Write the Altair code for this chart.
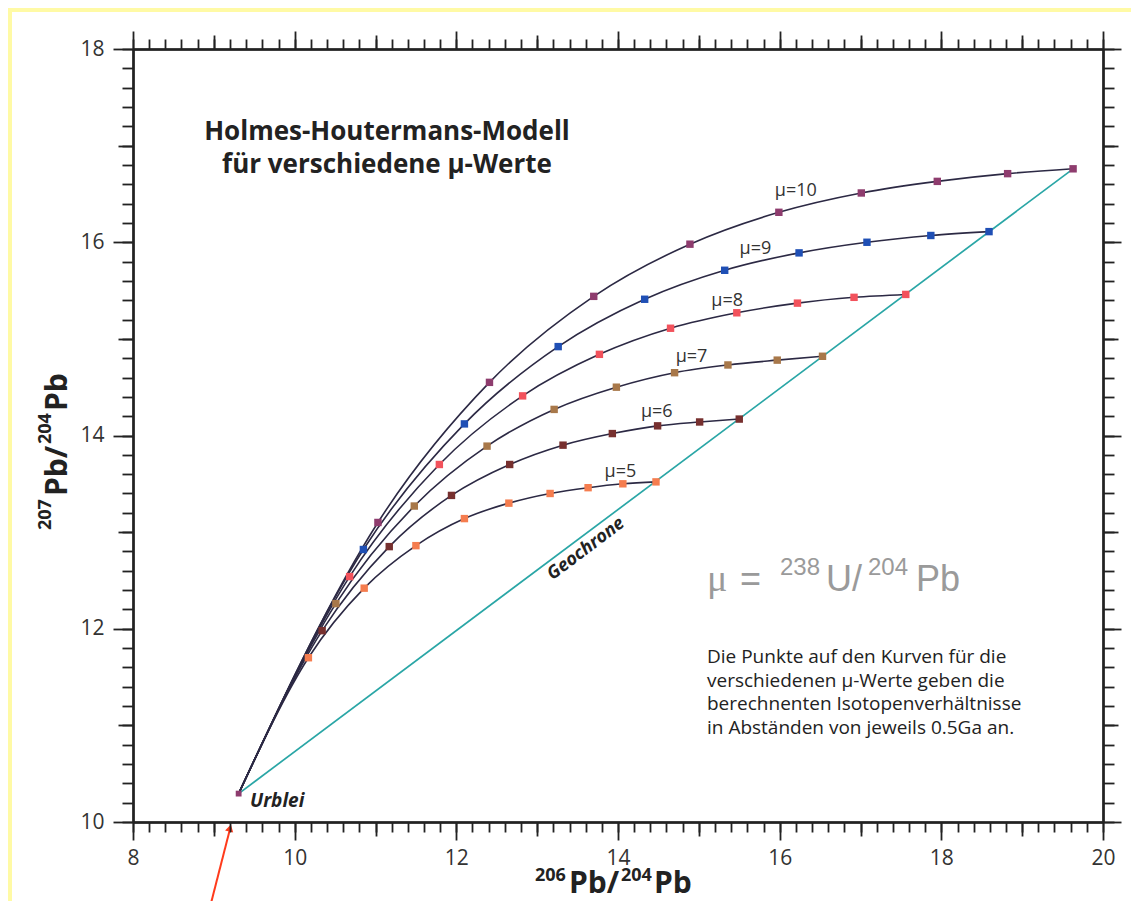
import altair as alt
import pandas as pd

# ---------------- data ----------------
AGES_GA = [4.0, 3.5, 3.0, 2.5, 2.0, 1.5, 1.0, 0.5, 0.0]
URBLEI_X = 9.307
URBLEI_Y = 10.294

MU_VALUES = [5, 6, 7, 8, 9, 10]
MU5_X = [10.17, 10.86, 11.50, 12.10, 12.65, 13.16, 13.63, 14.06, 14.47]
MU5_Y = [11.70, 12.42, 12.86, 13.14, 13.30, 13.40, 13.46, 13.50, 13.52]
MU6_X = [10.34, 11.17, 11.94, 12.66, 13.32, 13.93, 14.49, 15.01, 15.50]
MU6_Y = [11.98, 12.85, 13.38, 13.70, 13.90, 14.02, 14.10, 14.14, 14.17]
MU7_X = [10.51, 11.48, 12.38, 13.21, 13.98, 14.70, 15.36, 15.97, 16.53]
MU7_Y = [12.26, 13.27, 13.89, 14.27, 14.50, 14.65, 14.73, 14.78, 14.82]
MU8_X = [10.68, 11.79, 12.82, 13.77, 14.65, 15.47, 16.22, 16.92, 17.56]
MU8_Y = [12.54, 13.70, 14.41, 14.84, 15.11, 15.27, 15.37, 15.43, 15.46]
MU9_X = [10.85, 12.10, 13.26, 14.33, 15.32, 16.24, 17.08, 17.87, 18.59]
MU9_Y = [12.82, 14.12, 14.92, 15.41, 15.71, 15.89, 16.00, 16.07, 16.11]
MU10_X = [11.03, 12.41, 13.70, 14.89, 15.99, 17.01, 17.95, 18.82, 19.63]
MU10_Y = [13.10, 14.55, 15.44, 15.98, 16.31, 16.51, 16.63, 16.71, 16.76]

GEOCHRON_X = [9.307, 19.63]
GEOCHRON_Y = [10.294, 16.76]

MU_LABELS = ["\u03bc=5", "\u03bc=6", "\u03bc=7", "\u03bc=8", "\u03bc=9", "\u03bc=10"]
MU_LABEL_X = [14.03, 14.48, 14.91, 15.35, 15.70, 16.20]
MU_LABEL_Y = [13.62, 14.24, 14.81, 15.39, 15.93, 16.53]

X_MAJOR = [8, 10, 12, 14, 16, 18, 20]
X_MEDIUM = [9, 11, 13, 15, 17, 19]
X_MINOR = [round(8 + 0.2 * i, 1) for i in range(61)]
Y_MAJOR = [10, 12, 14, 16, 18]
Y_MEDIUM = [11, 13, 15, 17]
Y_MINOR = [round(10 + 0.2 * i, 1) for i in range(41)]

TITLE_LINES = ["Holmes-Houtermans-Modell", "f\u00fcr verschiedene \u03bc-Werte"]
NOTE_LINES = [
    "Die Punkte auf den Kurven f\u00fcr die",
    "verschiedenen \u03bc-Werte geben die",
    "berechnenten Isotopenverh\u00e4ltnisse",
    "in Abst\u00e4nden von jeweils 0.5Ga an.",
]

# ---------------- styles ----------------
INK = "#222222"
CURVE = "#2c2944"
GEO = "#2aa6a6"
MU_COLORS = ["#f57d4f", "#77302f", "#a8784a", "#f2525c", "#1f4fb5", "#8e3c6e"]
FONT = "Open Sans"

series = [(5, MU5_X, MU5_Y), (6, MU6_X, MU6_Y), (7, MU7_X, MU7_Y),
          (8, MU8_X, MU8_Y), (9, MU9_X, MU9_Y), (10, MU10_X, MU10_Y)]
curve_rows, dot_rows = [], []
for mu, xs, ys in series:
    curve_rows.append(dict(mu=mu, order=0, x=URBLEI_X, y=URBLEI_Y))
    for i, (x, y) in enumerate(zip(xs, ys)):
        curve_rows.append(dict(mu=mu, order=i + 1, x=x, y=y))
        dot_rows.append(dict(mu=mu, age=AGES_GA[i], x=x, y=y))
curves_df = pd.DataFrame(curve_rows)
dots_df = pd.DataFrame(dot_rows)
geo_df = pd.DataFrame(dict(x=GEOCHRON_X, y=GEOCHRON_Y, order=[0, 1]))
lab_df = pd.DataFrame(dict(x=MU_LABEL_X, y=MU_LABEL_Y, t=MU_LABELS))
urb_df = pd.DataFrame(dict(x=[URBLEI_X], y=[URBLEI_Y]))
frame_df = pd.DataFrame(dict(x=[8, 20], y=[10, 18]))
one = pd.DataFrame(dict(a=[0]))

XS = alt.Scale(domain=[8, 20], nice=False, zero=False)
YS = alt.Scale(domain=[10, 18], nice=False, zero=False)


def ax(orient, values, size, labels=False):
    kw = dict(orient=orient, values=values, tickSize=size, labels=labels, grid=False,
              title=None, domainColor=INK, domainWidth=2, tickColor=INK, tickWidth=1.8,
              zindex=2)
    if labels:
        kw.update(labelFont=FONT, labelFontSize=21, labelColor="#333333",
                  labelPadding=(7 if orient in ("bottom", "top") else 9),
                  labelFlush=False, labelOverlap=False, format="d")
    return alt.Axis(**kw)


def axis_layer(xa, ya):
    return alt.Chart(frame_df).mark_point(opacity=0).encode(
        x=alt.X("x:Q", scale=XS, axis=xa),
        y=alt.Y("y:Q", scale=YS, axis=ya),
    )


axis_layers = [
    axis_layer(ax("bottom", X_MINOR, 10), ax("left", Y_MINOR, 11)),
    axis_layer(ax("bottom", X_MEDIUM, 14), ax("left", Y_MEDIUM, 15)),
    axis_layer(ax("bottom", X_MAJOR, 18, True), ax("left", Y_MAJOR, 20, True)),
    axis_layer(ax("top", X_MINOR, 10), ax("right", Y_MINOR, 11)),
    axis_layer(ax("top", X_MEDIUM, 14), ax("right", Y_MEDIUM, 15)),
    axis_layer(ax("top", X_MAJOR, 18), ax("right", Y_MAJOR, 18)),
]


def X(f="x"):
    return alt.X(f + ":Q", scale=XS, axis=None)


def Y(f="y"):
    return alt.Y(f + ":Q", scale=YS, axis=None)


bg = alt.Chart(one).mark_rect(color="white").encode(
    x=alt.value(-121), x2=alt.value(1010), y=alt.value(-37), y2=alt.value(900))

geo = alt.Chart(geo_df).mark_line(color=GEO, strokeWidth=1.7).encode(
    x=X(), y=Y(), order="order:Q")

curves = alt.Chart(curves_df).mark_line(
    interpolate="monotone", color=CURVE, strokeWidth=1.6).encode(
    x=X(), y=Y(), detail="mu:N", order="order:Q")

dots = alt.Chart(dots_df).mark_square(size=55, opacity=1).encode(
    x=X(), y=Y(),
    color=alt.Color("mu:N", scale=alt.Scale(domain=MU_VALUES, range=MU_COLORS), legend=None))

urb = alt.Chart(urb_df).mark_square(size=34, opacity=1, color="#8e3c6e").encode(x=X(), y=Y())

mu_text = alt.Chart(lab_df).mark_text(font=FONT, fontSize=18, color="#333333").encode(
    x=X(), y=Y(), text="t:N")


def ptext(t, px, py, **kw):
    return alt.Chart(one).mark_text(**kw).encode(
        x=alt.value(px), y=alt.value(py), text=alt.value(t))


BOLD = dict(font=FONT, fontWeight="bold", color="#222222", baseline="alphabetic", align="left")
GRAY = dict(font="Liberation Sans", color="#9a9a9a", baseline="alphabetic", align="left")

texts = [
    ptext(TITLE_LINES, 254, 91, font=FONT, fontSize=26, fontWeight="bold", color="#222222",
          align="center", baseline="alphabetic", lineHeight=33),
    ptext(NOTE_LINES, 574, 614, font=FONT, fontSize=19, color="#222222",
          align="left", baseline="alphabetic", lineHeight=23.5),
    ptext("Urblei", 117, 752, font=FONT, fontSize=19, fontWeight="bold", fontStyle="italic",
          color="#222222", align="left", baseline="middle"),
    ptext("Geochrone", 453, 500, font=FONT, fontSize=18, fontWeight="bold", fontStyle="italic",
          color="#222222", align="center", baseline="middle", angle=323),
    # mu = 238U/204Pb
    ptext("\u03bc", 574, 542, fontSize=38, **dict(GRAY, font="Liberation Serif")),
    ptext("=", 607, 542, fontSize=36, **GRAY),
    ptext("238", 647, 526, fontSize=24, **GRAY),
    ptext("U/", 693, 542, fontSize=36, **GRAY),
    ptext("204", 735, 526, fontSize=24, **GRAY),
    ptext("Pb", 783, 542, fontSize=36, **GRAY),
    # x-axis title 206Pb/204Pb
    ptext("206", 402, 832, fontSize=18, **BOLD),
    ptext("Pb/", 436, 844, fontSize=30, **BOLD),
    ptext("204", 488, 832, fontSize=18, **BOLD),
    ptext("Pb", 521, 844, fontSize=30, **BOLD),
    # y-axis title 207Pb/204Pb (rotated)
    ptext("207", -82, 481, fontSize=18, angle=270, **BOLD),
    ptext("Pb/", -66, 447, fontSize=30, angle=270, **BOLD),
    ptext("204", -82, 395, fontSize=18, angle=270, **BOLD),
    ptext("Pb", -66, 362, fontSize=30, angle=270, **BOLD),
]

arrow_line = alt.Chart(one).mark_rule(color="#ff3b1c", strokeWidth=2).encode(
    x=alt.value(76), y=alt.value(862), x2=alt.value(97), y2=alt.value(780))
arrow_head = alt.Chart(one).mark_point(
    shape="triangle-up", filled=True, color="#ff3b1c", size=70, opacity=1, angle=14).encode(
    x=alt.value(97), y=alt.value(779))

chart = alt.layer(
    bg, *axis_layers, geo, curves, dots, urb, mu_text, *texts, arrow_line, arrow_head
).resolve_axis(x="independent", y="independent").properties(
    width=970, height=773,
    autosize=alt.AutoSizeParams(type="none"),
    padding={"left": 125, "top": 41, "right": 28, "bottom": 79},
    background="#fffaa5",
).configure_view(stroke=None)

chart.save("out.html", embed_options={"renderer": "svg", "actions": False})
